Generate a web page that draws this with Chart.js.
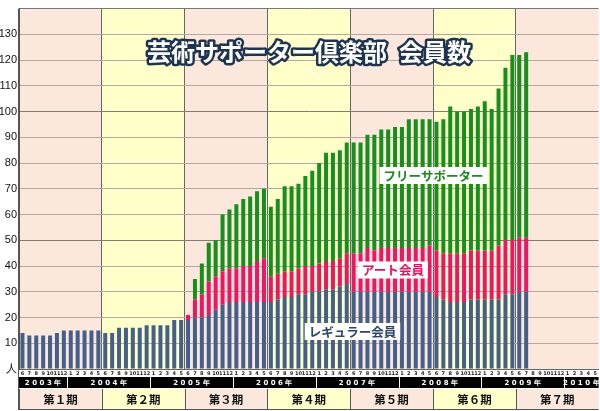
<!DOCTYPE html>
<html><head><meta charset="utf-8">
<script src="https://cdn.jsdelivr.net/npm/chart.js@4"></script>
<style>html,body{margin:0;padding:0;background:#fff;}canvas{display:block;}</style>
</head><body>
<canvas id="c" width="600" height="411"></canvas>
<script>
// ---- data ----
const monthLabels = ['6','7','8','9','10','11','12','1','2','3','4','5'];
const years = ['2003年','2004年','2005年','2006年','2007年','2008年','2009年','2010年'];
const periods = ['第１期','第２期','第３期','第４期','第５期','第６期','第７期'];
const yTicks = [0,10,20,30,40,50,60,70,80,90,100,110,120,130];
const zeroLabel = '人';
const title = '芸術サポーター倶楽部\u2002会員数';
const seriesNames = ['レギュラー会員','アート会員','フリーサポーター'];
// monthly members, 2003/6 .. 2009/7
const regular = [
 14,13,13,13,13,14,15,15,15,15,15,15,
 14,14,16,16,16,16,17,17,17,17,19,19,
 19,20,20,21,23,25,26,26,26,26,26,26,
 26,27,28,28,29,29,30,30,31,31,32,33,
 30,30,30,30,30,30,30,30,30,30,30,30,
 28,27,26,26,26,27,27,27,27,27,29,29,
 30,30];
const art = [
 0,0,0,0,0,0,0,0,0,0,0,0,
 0,0,0,0,0,0,0,0,0,0,0,0,
 2,7,9,13,13,13,13,13,14,14,16,17,
 10,10,10,10,10,11,10,11,11,11,11,12,
 15,15,17,16,17,17,17,17,17,17,17,18,
 18,18,19,19,19,19,19,19,19,21,21,21,
 21,21];
const free = [
 0,0,0,0,0,0,0,0,0,0,0,0,
 0,0,0,0,0,0,0,0,0,0,0,0,
 0,8,12,15,14,22,23,25,26,27,27,27,
 27,29,33,33,33,35,37,39,42,42,42,43,
 43,43,44,45,46,46,47,47,50,50,50,49,
 50,52,57,55,55,55,56,58,55,61,67,72,
 71,72];

// categories: 7 periods x 12 months
const categories = [];
periods.forEach((p,pi)=>monthLabels.forEach(m=>categories.push(p+'-'+m)));

const COL_BLUE='#435f8a', COL_PINK='#ec1667', COL_GREEN='#16901b';
const BG_PINK='#fbe7dc', BG_YEL='#ffffc9';
const CJK='"Noto Sans CJK JP", "Noto Sans", sans-serif';

const bandPlugin = {
  id:'bands',
  beforeDraw(chart){
    const {ctx, chartArea:a, scales:{x}} = chart;
    const pitch = x.getPixelForValue(1)-x.getPixelForValue(0);
    ctx.save();
    periods.forEach((p,pi)=>{
      const l = x.getPixelForValue(pi*12)-pitch/2;
      const r = x.getPixelForValue(pi*12+11)+pitch/2;
      ctx.fillStyle = pi%2===0?BG_PINK:BG_YEL;
      ctx.fillRect(l,a.top,r-l,a.bottom-a.top);
    });
    ctx.restore();
  },
  afterDraw(chart){
    const {ctx, chartArea:a, scales:{x}} = chart;
    const pitch = x.getPixelForValue(1)-x.getPixelForValue(0);
    const L = a.left, R = a.right;
    ctx.save();
    // month labels
    ctx.fillStyle='#222';
    ctx.font='bold 5px "DejaVu Sans", sans-serif';
    ctx.textAlign='center'; ctx.textBaseline='middle';
    categories.forEach((c,i)=>{
      ctx.fillText(monthLabels[i%12], x.getPixelForValue(i), a.bottom+4.5);
    });
    // year band
    const yb0=a.bottom+8, yb1=a.bottom+19;
    ctx.fillStyle='#000';
    ctx.fillRect(L,yb0,R-L,yb1-yb0);
    const starts=[0];
    categories.forEach((c,i)=>{ if(i>0 && monthLabels[i%12]==='1') starts.push(i); });
    ctx.fillStyle='#fff';
    ctx.font='bold 7px "DejaVu Sans", sans-serif';
    ctx.letterSpacing='2.5px';
    starts.forEach((s,k)=>{
      const e = k+1<starts.length?starts[k+1]:categories.length;
      const l = x.getPixelForValue(s)-pitch/2, r = x.getPixelForValue(e-1)+pitch/2;
      if(k>0){ ctx.fillRect(Math.round(l),yb0,1,yb1-yb0); }
      ctx.fillText(years[k], (l+r)/2+1.2, (yb0+yb1)/2+0.5);
    });
    ctx.letterSpacing='0px';
    // period band
    const pb0=yb1+1, pb1=409;
    periods.forEach((p,pi)=>{
      const l = x.getPixelForValue(pi*12)-pitch/2;
      const r = x.getPixelForValue(pi*12+11)+pitch/2;
      ctx.fillStyle = pi%2===0?BG_PINK:BG_YEL;
      ctx.fillRect(l,pb0,r-l,pb1-pb0);
      ctx.strokeStyle='#555'; ctx.lineWidth=1;
      ctx.beginPath(); ctx.moveTo(Math.round(l)+0.5,pb0); ctx.lineTo(Math.round(l)+0.5,pb1); ctx.stroke();
      ctx.fillStyle='#111';
      ctx.font='bold 11.5px '+CJK;
      ctx.fillText(p,(l+r)/2,(pb0+pb1)/2+0.5);
    });
    ctx.strokeStyle='#555';
    ctx.beginPath(); ctx.moveTo(L,pb1+0.5); ctx.lineTo(R,pb1+0.5); ctx.stroke();
    ctx.beginPath(); ctx.moveTo(Math.round(L)-0.5,a.top); ctx.lineTo(Math.round(L)-0.5,pb1+1); ctx.stroke();
    // title
    ctx.font='bold 24px '+CJK;
    ctx.textAlign='center'; ctx.textBaseline='middle';
    ctx.lineJoin='round';
    ctx.lineWidth=5; ctx.strokeStyle='#1d3350';
    ctx.strokeText(title,309,52);
    ctx.fillStyle='#fff';
    ctx.fillText(title,309,52);
    // series labels
    const boxes=[
      {t:seriesNames[2], cx:433.5, cy:175.5, c:'#1a8a1a'},
      {t:seriesNames[1], cx:393, cy:270, c:'#e3125f'},
      {t:seriesNames[0], cx:352.5, cy:331.5, c:'#2d4668'}
    ];
    ctx.font='bold 12.5px '+CJK;
    boxes.forEach(b=>{
      const w=ctx.measureText(b.t).width+8, h=17;
      ctx.fillStyle='#fff';
      ctx.fillRect(b.cx-w/2,b.cy-h/2,w,h);
      ctx.fillStyle=b.c;
      ctx.fillText(b.t,b.cx,b.cy+0.5);
    });
    ctx.restore();
  }
};

new Chart(document.getElementById('c'),{
  type:'bar',
  data:{
    labels:categories,
    datasets:[
      {label:seriesNames[0],data:regular,backgroundColor:COL_BLUE},
      {label:seriesNames[1],data:art,backgroundColor:COL_PINK},
      {label:seriesNames[2],data:free,backgroundColor:COL_GREEN}
    ]
  },
  options:{
    responsive:false, animation:false, devicePixelRatio:1,
    layout:{padding:{left:0,right:1.4,top:2,bottom:0}},
    datasets:{bar:{categoryPercentage:1,barPercentage:0.58,borderWidth:0}},
    plugins:{legend:{display:false},tooltip:{enabled:false},title:{display:false}},
    scales:{
      x:{
        stacked:true, offset:true,
        afterFit(s){ s.height=42; },
        ticks:{display:false},
        grid:{offset:true,drawTicks:false,
          color:(c)=> (c.index%12===0)?'#666':'rgba(0,0,0,0)', lineWidth:1},
        border:{display:true,color:'#666'}
      },
      y:{
        stacked:true, min:0, max:140,
        afterFit(s){ s.width=19; },
        afterBuildTicks(s){ s.ticks = yTicks.concat([140]).map(v=>({value:v})); },
        ticks:{
          padding:2, color:'#111',
          font:{size:11,family:'"Liberation Sans", Arial, sans-serif'},
          callback:(v)=> v===0?zeroLabel:(v===140?'':String(v))
        },
        grid:{drawTicks:false,
          color:(c)=> (c.tick && (c.tick.value===50||c.tick.value===100))?'#857a72':(c.tick&&c.tick.value===140?'#777':'#b3a79f'),
          lineWidth:1},
        border:{display:true,color:'#555'}
      }
    }
  },
  plugins:[bandPlugin]
});
</script>
</body></html>
